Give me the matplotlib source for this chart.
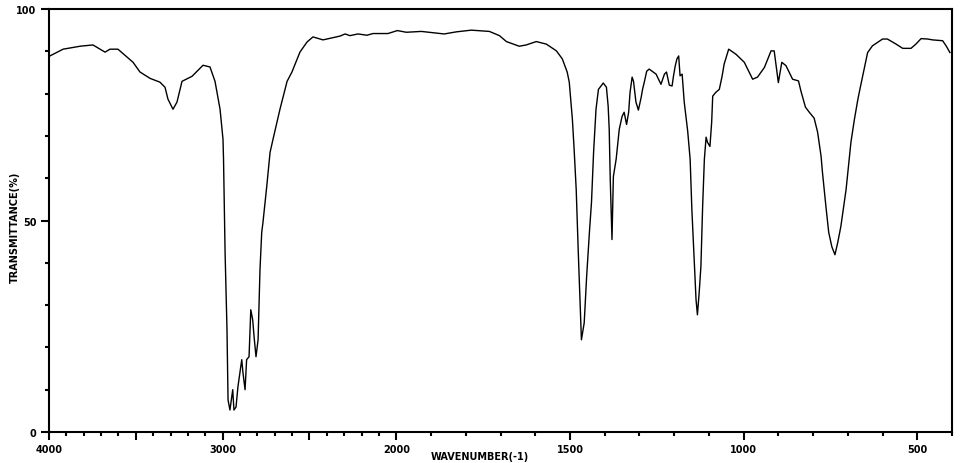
import numpy as np
import matplotlib
matplotlib.use("Agg")
import matplotlib.pyplot as plt
from matplotlib.ticker import FixedLocator

#---------------------------------------------------------------------------------------------------------------------------
# Spectrum (wavenumber in cm-1, transmittance in %)

wavenumber = [3995, 3919, 3821, 3747, 3677, 3649, 3603, 3516, 3476, 3418, 3361, 3332, 3315, 3286, 3263,
              3234, 3176, 3113, 3073, 3044, 3015, 2998, 2995, 2986, 2975, 2969, 2958, 2942, 2935, 2923,
              2912, 2890, 2883, 2871, 2862, 2848, 2838, 2827, 2819, 2808, 2796, 2785, 2775, 2768, 2746,
              2727, 2710, 2670, 2629, 2601, 2555, 2514, 2480, 2422, 2324,
              2295, 2267, 2221, 2169, 2134, 2048, 1997, 1971, 1928, 1905, 1862, 1827, 1784, 1732, 1703,
              1683, 1646, 1626, 1597, 1568, 1539, 1522, 1508,
              1502, 1493, 1488, 1482, 1476, 1471, 1467, 1459, 1452, 1444, 1438, 1432, 1425, 1418, 1404,
              1395, 1390, 1387, 1384, 1379, 1375, 1367, 1358, 1350, 1344, 1337, 1331, 1327, 1321, 1317,
              1310, 1303, 1295, 1291, 1286, 1279, 1272, 1252, 1238, 1228, 1222, 1214, 1206, 1202, 1197,
              1192, 1187, 1183, 1177, 1171, 1161, 1154, 1149, 1144, 1140, 1137, 1133, 1128, 1123, 1118,
              1113, 1108, 1104, 1097, 1092, 1089, 1080, 1070, 1062, 1056, 1043, 1022, 998, 974, 960,
              940, 921, 912, 905, 900, 895, 890, 878, 859, 842, 835, 822, 811, 797, 787,
              777, 773, 768, 763, 755, 746, 737, 729, 720, 713, 705, 698, 691, 681, 672,
              667, 653, 643, 629, 600, 586, 561, 542, 518, 504, 489, 470, 456, 427, 417, 406]

transmittance = [88.9, 90.5, 91.2, 91.5, 89.8, 90.5, 90.5, 87.4, 85.1, 83.6, 82.7, 81.5, 78.7, 76.3, 78.0,
                 82.9, 84.1, 86.7, 86.3, 82.9, 76.3, 69.2, 64.5, 42.4, 24.2, 7.6, 5.2, 10.0, 5.2, 5.9,
                 10.7, 17.1, 14.0, 10.0, 17.1, 17.8, 28.9, 26.5, 22.5, 17.8, 21.8, 38.4, 47.2, 49.5, 58.1,
                 66.1, 69.2, 76.3, 82.9, 85.1, 89.8, 92.2, 93.4, 92.7, 93.6,
                 94.1, 93.7, 94.1, 93.8, 94.2, 94.2, 94.9, 94.5, 94.7, 94.5, 94.1, 94.6, 95.0, 94.7, 93.7,
                 92.3, 91.2, 91.5, 92.3, 91.7, 90.1, 88.2, 85.1,
                 82.7, 73.9, 66.8, 57.3, 42.4, 31.3, 21.8, 25.8, 36.7, 47.2, 54.3, 66.1, 76.3, 81.0, 82.5,
                 81.5, 77.0, 71.6, 59.7, 45.5, 60.4, 64.5, 71.6, 74.6, 75.6, 72.7, 75.6, 80.3, 83.9, 82.9,
                 78.0, 76.1, 79.1, 81.0, 82.7, 85.3, 85.8, 84.6, 82.2, 84.6, 85.1, 82.0, 81.8, 84.1, 86.5,
                 88.2, 88.9, 84.2, 84.6, 78.0, 71.1, 64.5, 52.6, 43.8, 36.7, 31.3, 27.7, 32.9, 39.1, 53.3,
                 64.5, 69.7, 68.5, 67.5, 73.2, 79.4, 80.3, 81.0, 84.1, 87.0, 90.5, 89.3, 87.4, 83.4, 83.9,
                 86.2, 90.1, 90.1, 85.8, 82.6, 85.0, 87.4, 86.6, 83.4, 83.0, 80.6, 76.8, 75.6, 74.2, 70.9,
                 65.2, 61.4, 57.3, 53.3, 47.2, 43.8, 41.9, 44.8, 48.6, 52.6, 57.3, 62.8, 68.5, 73.9, 78.2,
                 80.3, 85.8, 89.7, 91.3, 92.9, 92.9, 91.7, 90.7, 90.7, 91.7, 93.0, 92.9, 92.7, 92.5, 91.3, 89.7]

x_major = [4000, 3500, 3000, 2500, 2000, 1500, 1000, 500]
x_labels = ["4000", "", "3000", "", "2000", "1500", "1000", "500"]
y_major = [0, 50, 100]
y_labels = ["0", "50", "100"]

#---------------------------------------------------------------------------------------------------------------------------
# Axis scale: 4000-2000 compressed, below 2000 twice as wide

def fwd(w):
    w = np.asarray(w, dtype=float)
    return np.where(w >= 2000, w, 2 * w - 2000)

def inv(u):
    u = np.asarray(u, dtype=float)
    return np.where(u >= 2000, u, (u + 2000) / 2)

#---------------------------------------------------------------------------------------------------------------------------

plt.rcParams['font.family'] = ['DejaVu Sans']
fig = plt.figure(figsize=(9.6, 4.64), dpi=100)
ax = fig.add_axes([49 / 960, 1 - 433 / 464, (952 - 49) / 960, (433 - 10) / 464])

ax.plot(wavenumber, transmittance, color='black', lw=1.0)

ax.set_xscale('function', functions=(fwd, inv))
ax.set_xlim(4000, 400)
ax.set_ylim(0, 100)

ax.xaxis.set_major_locator(FixedLocator(x_major))
ax.set_xticklabels(x_labels)
ax.xaxis.set_minor_locator(FixedLocator([w for w in range(400, 4000, 100) if w not in x_major]))
ax.yaxis.set_major_locator(FixedLocator(y_major))
ax.set_yticklabels(y_labels)
ax.yaxis.set_minor_locator(FixedLocator(list(range(10, 100, 10))))

ax.tick_params(axis='both', which='major', direction='out', length=6, width=1.5,
               labelsize=7, pad=3)
ax.tick_params(axis='both', which='minor', direction='out', length=3, width=1.5)
for lab in ax.get_xticklabels() + ax.get_yticklabels():
    lab.set_fontweight('bold')

for sp in ax.spines.values():
    sp.set_linewidth(1.5)

fig.text(15 / 960, 1 - 227 / 464, "TRANSMITTANCE(%)", rotation=90, ha='center', va='center',
         fontsize=7, fontweight='bold')
fig.text(480 / 960, 1 - 457 / 464, "WAVENUMBER(-1)", ha='center', va='center',
         fontsize=7, fontweight='bold')

fig.savefig("out.png", dpi=100)
